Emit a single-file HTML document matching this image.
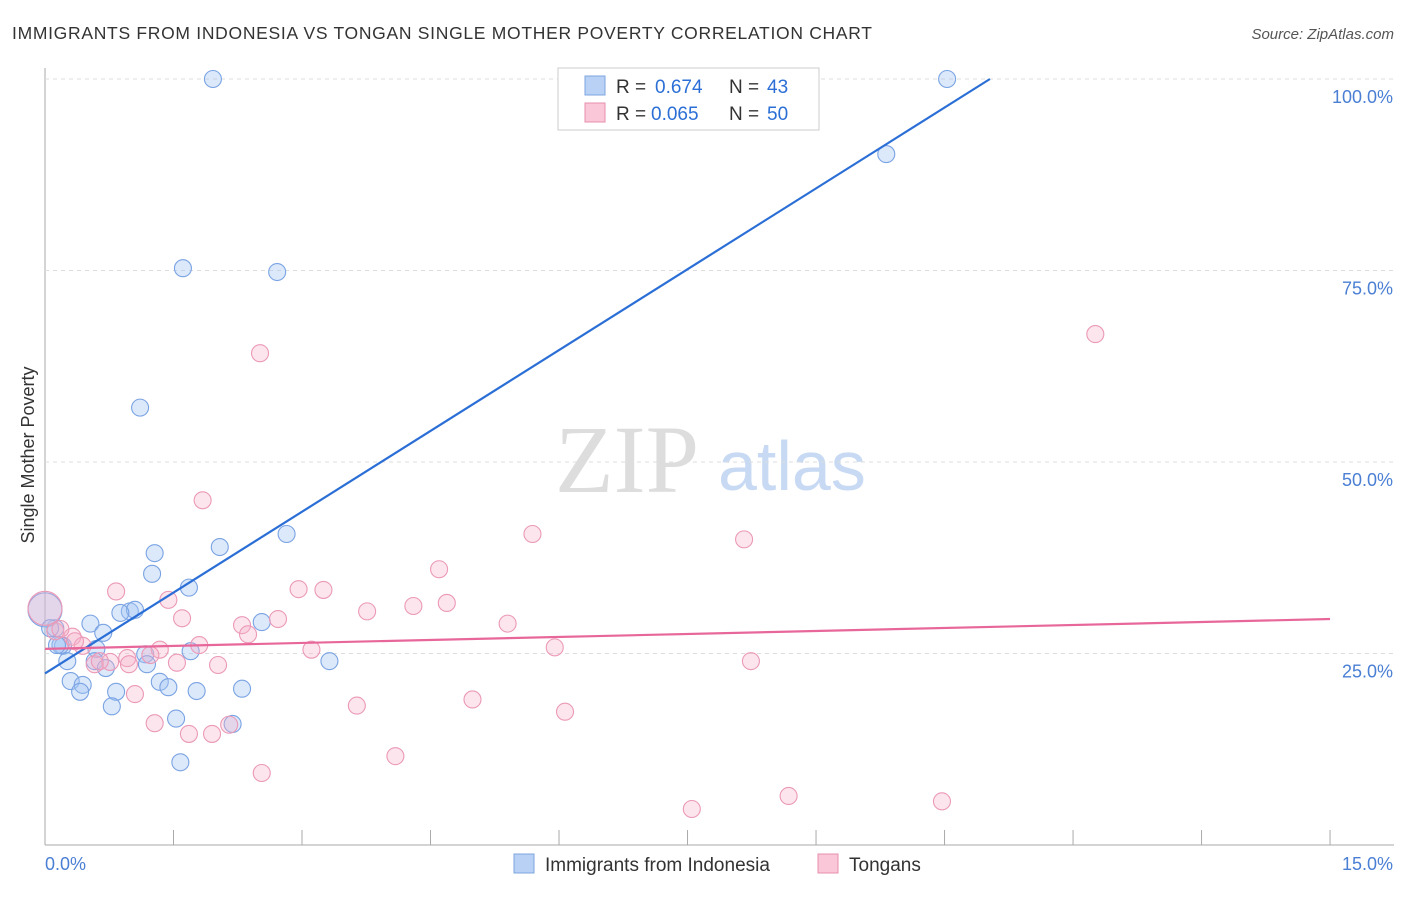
<!DOCTYPE html>
<html><head><meta charset="utf-8"><style>
body{margin:0;background:#fff;font-family:"Liberation Sans",sans-serif;}
</style></head><body>
<svg id="c" width="1406" height="892" xmlns="http://www.w3.org/2000/svg">
<text x="12" y="39" font-size="17.5" fill="#333" textLength="860" lengthAdjust="spacing">IMMIGRANTS FROM INDONESIA VS TONGAN SINGLE MOTHER POVERTY CORRELATION CHART</text>
<text x="1394" y="39" font-size="15" fill="#555" font-style="italic" text-anchor="end">Source: ZipAtlas.com</text>
<text x="555" y="492" font-size="96" fill="#ddd" font-family="Liberation Serif,serif">ZIP</text>
<text x="718" y="490" font-size="70" fill="#c8daf3">atlas</text>
<text transform="translate(34,455) rotate(-90)" font-size="18" fill="#333" text-anchor="middle">Single Mother Poverty</text>
<g id="grid"></g><g id="pts"></g><g id="lines"></g>
<g>
<rect x="558" y="68" width="261" height="62" fill="#fff" stroke="#ccc"/>
<rect x="585" y="76" width="20" height="19" fill="#b8d1f5" stroke="#7ea6e0"/>
<rect x="585" y="103" width="20" height="19" fill="#f9c7d7" stroke="#e88fae"/>
<text x="616" y="93" font-size="19" fill="#333">R = </text><text x="655" y="93" font-size="19" fill="#2b6fd6">0.674</text>
<text x="729" y="93" font-size="19" fill="#333">N = </text><text x="767" y="93" font-size="19" fill="#2b6fd6">43</text>
<text x="616" y="120" font-size="19" fill="#333">R = </text><text x="651" y="120" font-size="19" fill="#2b6fd6">0.065</text>
<text x="729" y="120" font-size="19" fill="#333">N = </text><text x="767" y="120" font-size="19" fill="#2b6fd6">50</text>
</g>
<g>
<rect x="514" y="854" width="20" height="19" fill="#b8d1f5" stroke="#7ea6e0"/>
<text x="545" y="871" font-size="19" fill="#333">Immigrants from Indonesia</text>
<rect x="818" y="854" width="20" height="19" fill="#f9c7d7" stroke="#e88fae"/>
<text x="849" y="871" font-size="19" fill="#333">Tongans</text>
</g>
</svg>
<script>
const xTicks=[0,1.5,3,4.5,6,7.5,9,10.5,12,13.5,15];
const yTicks=[25,50,75,100];
const blueX=[1.96,10.53,9.82,1.61,2.71,1.11,2.82,2.04,1.28,1.25,1.68,0.99,1.05,0.88,2.53,0.53,0.12,0.0,0.68,0.21,0.18,0.6,1.17,1.70,3.32,0.26,0.58,0.71,1.19,0.30,0.44,1.34,1.44,1.77,2.30,0.41,0.83,0.78,1.53,2.19,1.58,0.14,0.06];
const blueY=[100,100,90.2,75.3,74.8,57.1,40.6,38.9,38.1,35.4,33.6,30.5,30.7,30.3,29.1,28.9,28.3,30.7,27.7,26.0,26.1,25.6,24.9,25.3,24.0,24.0,24.0,23.1,23.6,21.4,20.9,21.3,20.6,20.1,20.4,20.0,20.0,18.1,16.5,15.8,10.8,26.1,28.3];
const pinkX=[2.51,12.26,1.84,5.69,8.16,4.6,0.83,2.96,3.25,1.44,4.69,4.3,3.76,1.6,2.72,2.30,5.40,0.0,0.12,0.32,0.44,1.80,3.11,1.34,0.96,0.76,0.58,1.54,2.02,0.98,5.95,8.24,2.37,1.05,3.64,4.99,6.07,1.28,1.68,1.95,2.15,4.09,2.53,7.55,8.68,10.47,0.64,0.35,0.18,1.23];
const pinkY=[64.2,66.7,45.0,40.6,39.9,36.0,33.1,33.4,33.3,32.0,31.6,31.2,30.5,29.6,29.5,28.7,28.9,30.9,27.9,27.2,26.0,26.1,25.5,25.5,24.4,23.9,23.6,23.8,23.5,23.6,25.8,24.0,27.5,19.7,18.2,19.0,17.4,15.9,14.5,14.5,15.7,11.6,9.4,4.7,6.4,5.7,24.0,26.6,28.2,24.8];
const X=v=>45+v*85.67, Y=v=>845-v*7.66;
const ns="http://www.w3.org/2000/svg";
function mk(t,a,p){const e=document.createElementNS(ns,t);for(const k in a)e.setAttribute(k,a[k]);p.appendChild(e);return e;}
const g=document.getElementById('grid');
mk('line',{x1:45,y1:68,x2:45,y2:845,stroke:'#aaa'},g);
mk('line',{x1:45,y1:845,x2:1394,y2:845,stroke:'#aaa'},g);
yTicks.forEach(t=>{const l=mk('line',{x1:45,y1:Y(t),x2:1394,y2:Y(t),stroke:'#ddd','stroke-dasharray':'4,4'},g);


const tx=mk('text',{x:1393,y:Y(t)+24,'font-size':18,fill:'#4a7fd4','text-anchor':'end'},g);tx.textContent=t.toFixed(1)+'%';

});
xTicks.forEach(t=>{const l=mk('line',{x1:X(t),y1:830,x2:X(t),y2:845,stroke:'#aaa'},g);

});
[[0,45,'start'],[15,1393,'end']].forEach(([v,x,a])=>{const tx=mk('text',{x:x,y:870,'font-size':18,fill:'#4a7fd4','text-anchor':a},g);tx.textContent=v.toFixed(1)+'%';

});
const p=document.getElementById('pts');
blueX.forEach((x,i)=>{const c=mk('circle',{cx:X(x),cy:Y(blueY[i]),r:i==17?17:8.5,fill:'rgba(164,196,244,0.38)',stroke:'#7aa3e3','stroke-width':1.1},p);

});
pinkX.forEach((x,i)=>{const c=mk('circle',{cx:X(x),cy:Y(pinkY[i]),r:i==17?17:8.5,fill:'rgba(246,176,200,0.33)',stroke:'#eb99b7','stroke-width':1.1},p);

});
const L=document.getElementById('lines');
const bl=mk('line',{x1:X(0),y1:Y(22.4),x2:X(11.03),y2:Y(100),stroke:'#2b6fd6','stroke-width':2.2},L);


const pl=mk('line',{x1:X(0),y1:Y(25.6),x2:X(15),y2:Y(29.5),stroke:'#e8679a','stroke-width':2.2},L);


</script>
</body></html>
